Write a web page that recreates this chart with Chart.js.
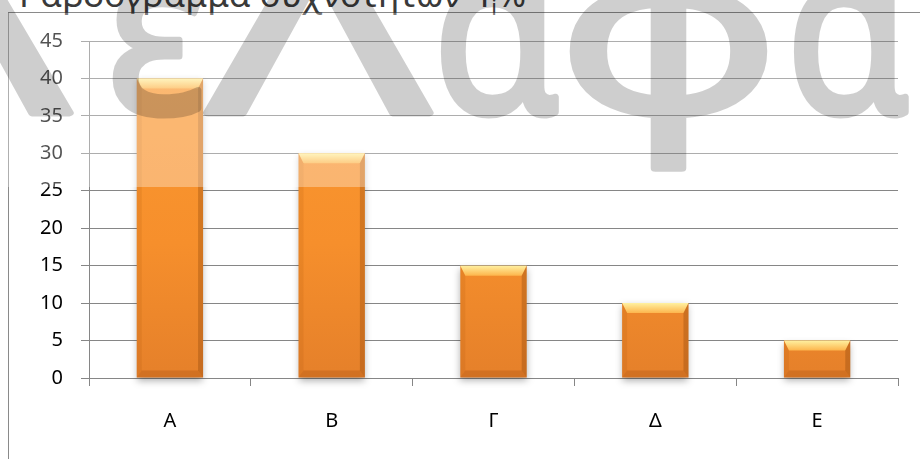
<!DOCTYPE html>
<html lang="el">
<head>
<meta charset="utf-8">
<title>Ραβδόγραμμα συχνοτήτων</title>
<script src="https://cdn.jsdelivr.net/npm/chart.js@4.4.1/dist/chart.umd.min.js"></script>
<style>
    html, body { margin: 0; padding: 0; background: #fff; overflow: hidden; }
    body { width: 920px; height: 459px; position: relative; font-family: "Noto Sans", sans-serif; }
    /* πλαίσιο του γραφήματος (ξεκινά έξω από το παράθυρο δεξιά/κάτω) */
    .frame { position: absolute; left: 8px; top: 12px; width: 1000px; height: 600px;
             border-left: 1px solid #8a8a8a; border-top: 1px solid #8a8a8a; }
    .title { position: absolute; left: 19px; top: -30px; font-size: 35px; color: #3a3a3a;
             white-space: nowrap; line-height: 48px; }
    .title sub { font-size: 22px; }
    canvas { position: absolute; left: 0; top: 0; }
</style>
</head>
<body>
<div class="frame"></div>
<div class="title">Ραβδόγραμμα συχνοτήτων&nbsp; f<sub>i</sub>%</div>
<canvas id="barChart" width="920" height="459"></canvas>
<script>
// --- Δεδομένα ---
const categories = ['Α', 'Β', 'Γ', 'Δ', 'Ε'];
const frequencies = [40, 30, 15, 10, 5];
const yTicks = [0, 5, 10, 15, 20, 25, 30, 35, 40, 45];

// --- Χρώματα ---
const gridColor = '#868686';
const fontFamily = '"Noto Sans", sans-serif';

// υδατογράφημα στο φόντο (διακοσμητικό, όχι δεδομένα)
const watermark = [
    { ch: 'Λ', x0: -160, x1: 72 },
    { ch: 'ε', x0: 112, x1: 204 },
    { ch: 'Λ', x0: 205, x1: 432 },
    { ch: 'α', x0: 440, x1: 560 },
    { ch: 'φ', x0: 570, x1: 767 },
    { ch: 'α', x0: 793, x1: 910 }
];

// ζωγραφίζει το υδατογράφημα σε βοηθητικό canvas (αδιαφανές), μετά το βάζουμε με διαφάνεια
function makeWatermark(w, h) {
    const off = document.createElement('canvas');
    off.width = w; off.height = h;
    const c = off.getContext('2d');
    c.font = '230px ' + fontFamily;
    c.fillStyle = '#000';
    c.strokeStyle = '#000';
    c.lineWidth = 7;
    c.lineJoin = 'round';
    watermark.forEach(m0 => {
        const m = c.measureText(m0.ch);
        const gw = m.actualBoundingBoxLeft + m.actualBoundingBoxRight;
        const sx = (m0.x1 - m0.x0 - 7) / gw;
        c.save();
        c.translate(m0.x0 + 3.5, 113);
        c.scale(sx, 1);
        c.fillText(m0.ch, m.actualBoundingBoxLeft, 0);
        c.strokeText(m0.ch, m.actualBoundingBoxLeft, 0);
        c.restore();
    });
    return off;
}

// σκιά κάτω από τις ράβδους + "ανάγλυφο" (bevel) πάνω στις ράβδους
const bevelPlugin = {
    id: 'bevel',
    beforeDatasetsDraw(chart) {
        const ctx = chart.ctx;
        ctx.save();
        ctx.shadowColor = 'rgba(0,0,0,0.3)';
        ctx.shadowBlur = 7;
        ctx.shadowOffsetY = 3;
    },
    afterDatasetsDraw(chart) {
        const ctx = chart.ctx;
        ctx.restore();
        const meta = chart.getDatasetMeta(0);
        meta.data.forEach(bar => {
            const { x, y, base, width } = bar.getProps(['x', 'y', 'base', 'width'], true);
            const l = x - width / 2, r = x + width / 2, t = y, b = base;
            const bt = 10, bs = 5, bb = 7;

            const poly = (pts, fill) => {
                ctx.beginPath();
                ctx.moveTo(pts[0][0], pts[0][1]);
                pts.slice(1).forEach(p => ctx.lineTo(p[0], p[1]));
                ctx.closePath();
                ctx.fillStyle = fill;
                ctx.fill();
            };

            // πάνω φωτεινή λωρίδα
            const gTop = ctx.createLinearGradient(0, t, 0, t + bt);
            gTop.addColorStop(0, '#fff0a0');
            gTop.addColorStop(1, '#fdb54c');
            poly([[l, t], [r, t], [r - bs, t + bt], [l + bs, t + bt]], gTop);
            // αριστερή πλευρά
            poly([[l, t], [l + bs, t + bt], [l + bs, b - bb], [l, b]], 'rgba(160,80,10,0.14)');
            // δεξιά πλευρά
            poly([[r, t], [r - bs, t + bt], [r - bs, b - bb], [r, b]], 'rgba(120,55,5,0.28)');
            // κάτω πλευρά
            poly([[l, b], [l + bs, b - bb], [r - bs, b - bb], [r, b]], 'rgba(140,60,10,0.22)');
        });
    },
    afterDraw(chart) {
        const ctx = chart.ctx;
        ctx.save();
        // ημιδιάφανη λευκή ζώνη στο πάνω μέρος
        ctx.fillStyle = 'rgba(255,255,255,0.32)';
        ctx.fillRect(0, 13, chart.width, 174);

        // υδατογράφημα
        ctx.globalAlpha = 0.19;
        ctx.drawImage(makeWatermark(chart.width, chart.height), 0, 0);
        ctx.restore();
    }
};

const ctx = document.getElementById('barChart').getContext('2d');
const chart = new Chart(ctx, {
    type: 'bar',
    data: {
        labels: categories,
        datasets: [{
            data: frequencies,
            clip: false,
            borderWidth: 0,
            barPercentage: 0.41,
            categoryPercentage: 1,
            backgroundColor: (c) => {
                const area = c.chart.chartArea;
                if (!area) return '#f7922c';
                const g = c.chart.ctx.createLinearGradient(0, area.top, 0, area.bottom);
                g.addColorStop(0, '#fc9a30');
                g.addColorStop(0.6, '#f68f2c');
                g.addColorStop(1, '#e5802a');
                return g;
            }
        }]
    },
    options: {
        responsive: false,
        devicePixelRatio: 1,
        animation: false,
        layout: { padding: { left: 0, right: 22, top: 41, bottom: 0 } },
        plugins: { legend: { display: false }, tooltip: { enabled: false }, title: { display: false } },
        scales: {
            x: {
                grid: { drawOnChartArea: false, offset: true, tickLength: 8, color: gridColor },
                border: { color: gridColor },
                ticks: { color: '#000', font: { family: fontFamily, size: 20 }, padding: 23 },
                afterFit: (s) => { s.height = 81; }
            },
            y: {
                min: yTicks[0],
                max: yTicks[yTicks.length - 1],
                afterBuildTicks: (s) => { s.ticks = yTicks.map(v => ({ value: v })); },
                grid: { color: gridColor, tickLength: 8 },
                border: { color: gridColor },
                ticks: { color: '#000', font: { family: fontFamily, size: 20 }, padding: 18 },
                afterFit: (s) => { s.width = 89; }
            }
        }
    },
    plugins: [bevelPlugin]
});
</script>
</body>
</html>
